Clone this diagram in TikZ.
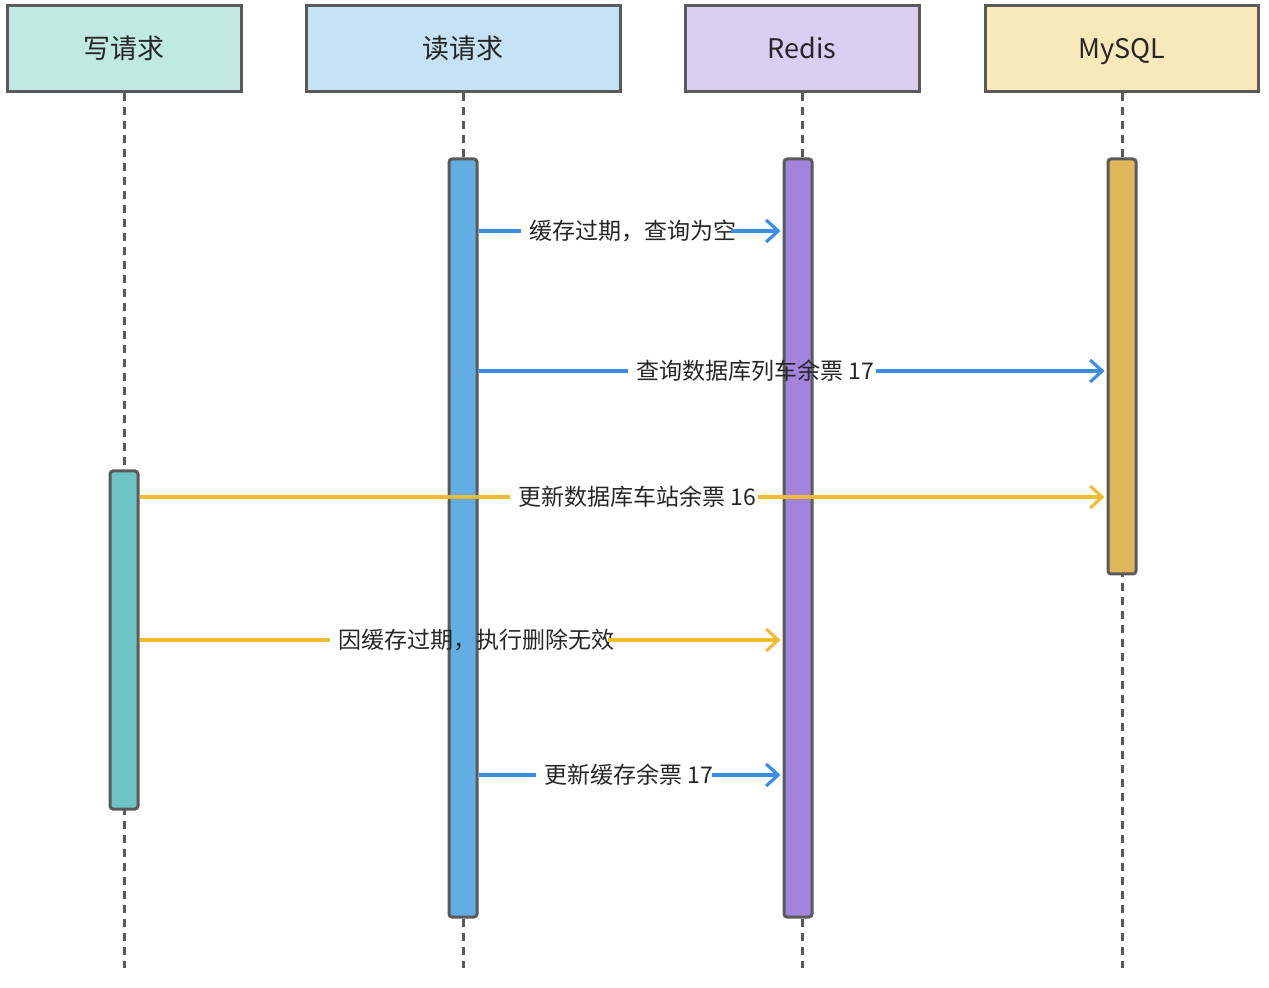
\documentclass[tikz,border=0pt]{standalone}
\usepackage{fontspec}
\setmainfont{Noto Sans CJK SC}
\usetikzlibrary{arrows.meta, positioning, calc}
\definecolor{LineGray}{HTML}{5A5A5A}
\definecolor{WriteHead}{HTML}{BFE9E2}
\definecolor{ReadHead}{HTML}{C5E3F4}
\definecolor{RedisHead}{HTML}{DACFF3}
\definecolor{MySQLHead}{HTML}{F8E8BA}
\definecolor{WriteBar}{HTML}{6EC3C4}
\definecolor{ReadBar}{HTML}{62AEE3}
\definecolor{RedisBar}{HTML}{A284DD}
\definecolor{MySQLBar}{HTML}{E0B65B}
\definecolor{MsgBlue}{HTML}{3A8EE8}
\definecolor{MsgYellow}{HTML}{F0BC35}
\tikzset{
    % Participant box
    head/.style={
        rectangle,
        draw=LineGray,
        line width=1.5pt,
        minimum height=43pt,
        text height=11.5pt,
        text depth=1.5pt,
        align=center,
        font=\fontsize{13.5pt}{16pt}\selectfont,
        text=black!85
    },
    % Lifeline
    lifeline/.style={
        draw=LineGray,
        line width=1.5pt,
        dash pattern=on 4pt off 3pt
    },
    % Activation bar
    actbar/.style={
        rectangle,
        draw=LineGray,
        line width=1.5pt,
        rounded corners=1.5pt,
        minimum width=14pt,
        inner sep=0pt
    },
    % Message label
    msg/.style={
        inner xsep=4pt,
        inner ysep=2pt,
        font=\fontsize{11.5pt}{14pt}\selectfont,
        text=black!85
    },
    % Message arrows
    bluemsg/.style={
        draw=MsgBlue,
        line width=1.6pt
    },
    yellowmsg/.style={
        draw=MsgYellow,
        line width=1.6pt
    },
    tip/.style={
        -{Straight Barb[length=6pt, width=11pt, line width=1.6pt]}
    }
}
\begin{document}
\begin{tikzpicture}[x=0.5pt, y=-0.5pt]
    \useasboundingbox (0,0) rectangle (1269,988);

    % Participants
    \node (write) [head, fill=WriteHead, minimum width=117pt] at (124,48.5) {写请求};
    \node (read) [head, fill=ReadHead, minimum width=157pt] at (463,48.5) {读请求};
    \node (redis) [head, fill=RedisHead, minimum width=117pt] at (802,48.5) {Redis};
    \node (mysql) [head, fill=MySQLHead, minimum width=136.5pt] at (1122,48.5) {MySQL};

    % Lifelines
    \coordinate (wend) at (124,968);
    \coordinate (rend) at (463,968);
    \coordinate (send) at (798,968);
    \coordinate (mend) at (1122,968);
    \draw [lifeline] (write.south) -- (wend);
    \draw [lifeline] (read.south) -- (rend);
    \draw [lifeline] (redis.south) -- (redis.south |- send);
    \draw [lifeline] (mysql.south) -- (mend);

    % Activation bars
    \node (readbar) [actbar, fill=ReadBar, minimum height=379pt] at (463,538) {};
    \node (redisbar) [actbar, fill=RedisBar, minimum height=379pt] at (798,538) {};
    \node (mysqlbar) [actbar, fill=MySQLBar, minimum height=207.5pt] at (1122,366.5) {};
    \node (writebar) [actbar, fill=WriteBar, minimum height=169pt] at (124,640) {};

    % Message rows
    \coordinate (m1) at (0,231);
    \coordinate (m2) at (0,371);
    \coordinate (m3) at (0,497);
    \coordinate (m4) at (0,640);
    \coordinate (m5) at (0,775);

    % Messages
    \node (l1) [msg] at (633,231) {缓存过期，查询为空};
    \draw [bluemsg] (readbar.east |- m1) -- (l1.west);
    \draw [bluemsg, tip] ([xshift=-7pt]l1.east) -- ([xshift=-1pt]redisbar.west |- m1);

    \node (l2) [msg] at (755,371) {查询数据库列车余票 17};
    \draw [bluemsg] (readbar.east |- m2) -- (l2.west);
    \draw [bluemsg, tip] ([xshift=-3pt]l2.east) -- ([xshift=-1pt]mysqlbar.west |- m2);

    \node (l3) [msg] at (637,497) {更新数据库车站余票 16};
    \draw [yellowmsg] (writebar.east |- m3) -- (l3.west);
    \draw [yellowmsg, tip] ([xshift=-3pt]l3.east) -- ([xshift=-1pt]mysqlbar.west |- m3);

    \node (l4) [msg] at (476,640) {因缓存过期，执行删除无效};
    \draw [yellowmsg] (writebar.east |- m4) -- (l4.west);
    \draw [yellowmsg, tip] ([xshift=-7pt]l4.east) -- ([xshift=-1pt]redisbar.west |- m4);

    \node (l5) [msg] at (629,775) {更新缓存余票 17};
    \draw [bluemsg] (readbar.east |- m5) -- (l5.west);
    \draw [bluemsg, tip] ([xshift=-5pt]l5.east) -- ([xshift=-1pt]redisbar.west |- m5);
\end{tikzpicture}
\end{document}
